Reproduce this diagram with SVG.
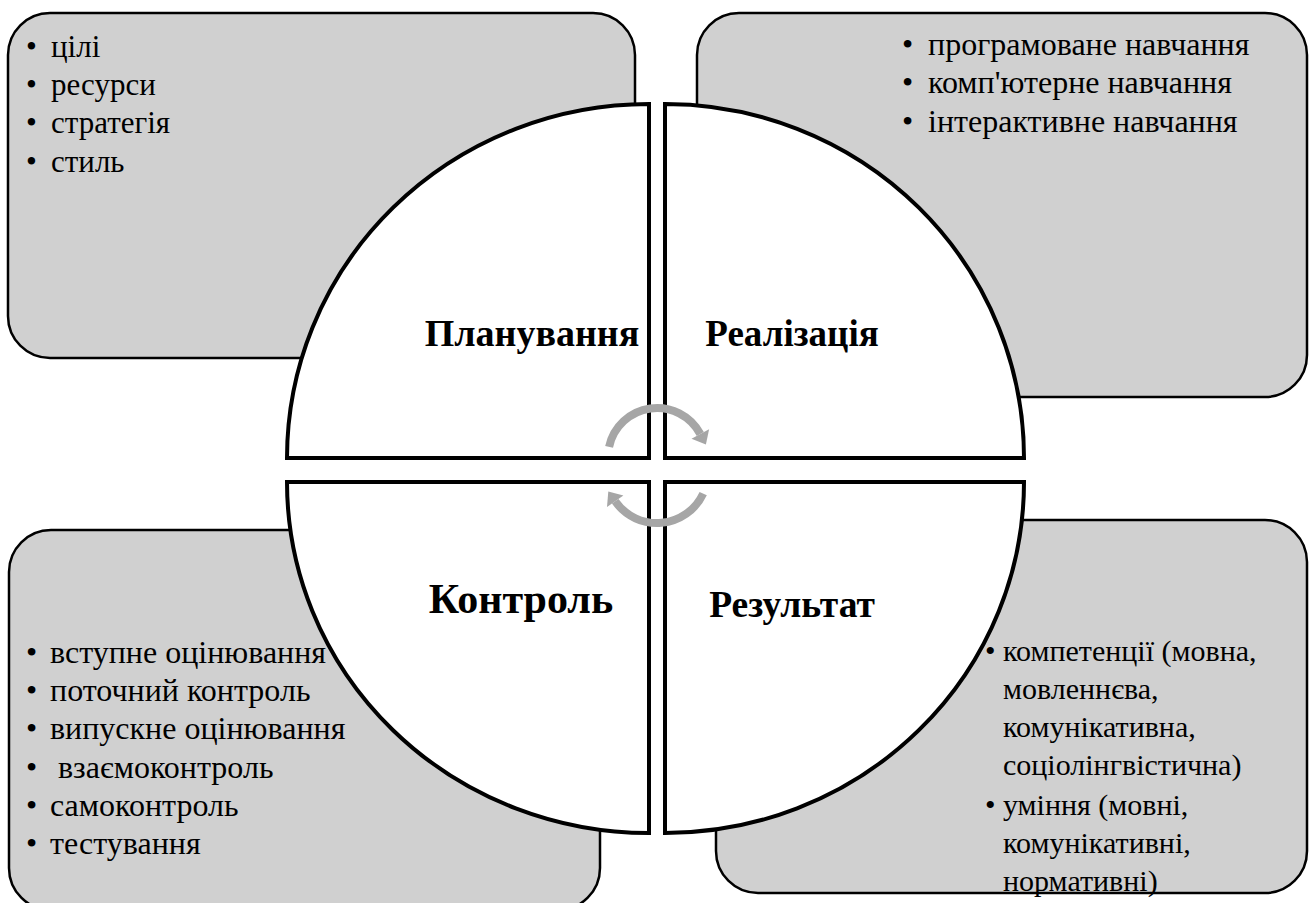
<svg xmlns="http://www.w3.org/2000/svg" width="1310" height="903" viewBox="0 0 1310 903">
<style>
.box{fill:#d0d0d0;stroke:#000;stroke-width:2.5}
.q{fill:#fff;stroke:#000;stroke-width:4;stroke-linejoin:miter}
.t{font-family:"Liberation Serif","Times New Roman",serif;fill:#000}
.h{font-family:"Liberation Serif","Times New Roman",serif;font-weight:bold;fill:#000}
.arc{fill:none;stroke:#a6a6a6;stroke-width:8}
.head{fill:#a6a6a6}
</style>
<rect width="1310" height="903" fill="#fff"/>
<g id="box-planning"><rect class="box" x="8" y="13" width="627" height="345" rx="42"/></g>
<g id="box-realization"><rect class="box" x="697" y="13" width="610" height="384" rx="42"/></g>
<g id="box-control"><rect class="box" x="9" y="530" width="591" height="380" rx="42"/></g>
<g id="box-result"><rect class="box" x="716" y="520" width="591" height="373" rx="42"/></g>

<g id="q-planning">
<path class="q" d="M649 458 L649 104 A362 354 0 0 0 287 458 Z"/>
<text class="h" x="532" y="346" font-size="38" text-anchor="middle">Планування</text>
</g>
<g id="q-realization">
<path class="q" d="M665 458 L665 104 A359 354 0 0 1 1024 458 Z"/>
<text class="h" x="792" y="346" font-size="37" text-anchor="middle">Реалізація</text>
</g>
<g id="q-control">
<path class="q" d="M649 482 L287 482 A362 351 0 0 0 649 833 Z"/>
<text class="h" x="521" y="613" font-size="42" text-anchor="middle">Контроль</text>
</g>
<g id="q-result">
<path class="q" d="M665 482 L1024 482 A359 351 0 0 1 665 833 Z"/>
<text class="h" x="792" y="617" font-size="37.5" text-anchor="middle">Результат</text>
</g>

<g id="connectors">
<path class="arc" d="M609.1 446.8 A49 49 0 0 1 700.3 434"/>
<polygon class="head" points="705.9,444.6 709.1,429.3 691.5,438.7"/>
<path class="arc" d="M703.2 493.6 A51 51 0 0 1 615.2 501.3"/>
<polygon class="head" points="608.3,491.5 623.4,495.6 607,507"/>
</g>

<g id="list-planning" class="t" font-size="31">
<text><tspan x="26" y="57">•</tspan><tspan x="51">цілі</tspan></text>
<text><tspan x="26" y="95">•</tspan><tspan x="51">ресурси</tspan></text>
<text><tspan x="26" y="133">•</tspan><tspan x="51">стратегія</tspan></text>
<text><tspan x="26" y="172">•</tspan><tspan x="51">стиль</tspan></text>
</g>
<g id="list-realization" class="t" font-size="32">
<text><tspan x="902" y="55">•</tspan><tspan x="928">програмоване навчання</tspan></text>
<text><tspan x="902" y="93">•</tspan><tspan x="928">комп'ютерне навчання</tspan></text>
<text><tspan x="902" y="132">•</tspan><tspan x="928">інтерактивне навчання</tspan></text>
</g>
<g id="list-control" class="t" font-size="32">
<text><tspan x="26" y="663">•</tspan><tspan x="50">вступне оцінювання</tspan></text>
<text><tspan x="26" y="701">•</tspan><tspan x="50">поточний контроль</tspan></text>
<text><tspan x="26" y="739">•</tspan><tspan x="50">випускне оцінювання</tspan></text>
<text><tspan x="26" y="778">•</tspan><tspan x="58">взаємоконтроль</tspan></text>
<text><tspan x="26" y="816">•</tspan><tspan x="50">самоконтроль</tspan></text>
<text><tspan x="26" y="854">•</tspan><tspan x="50">тестування</tspan></text>
</g>
<g id="list-result" class="t" font-size="30">
<text><tspan x="985" y="661">•</tspan><tspan x="1003">компетенції (мовна,</tspan></text>
<text x="1003" y="699">мовленнєва,</text>
<text x="1003" y="737">комунікативна,</text>
<text x="1003" y="775">соціолінгвістична)</text>
<text><tspan x="985" y="815">•</tspan><tspan x="1003">уміння (мовні,</tspan></text>
<text x="1003" y="853">комунікативні,</text>
<text x="1003" y="891">нормативні)</text>
</g>
</svg>
